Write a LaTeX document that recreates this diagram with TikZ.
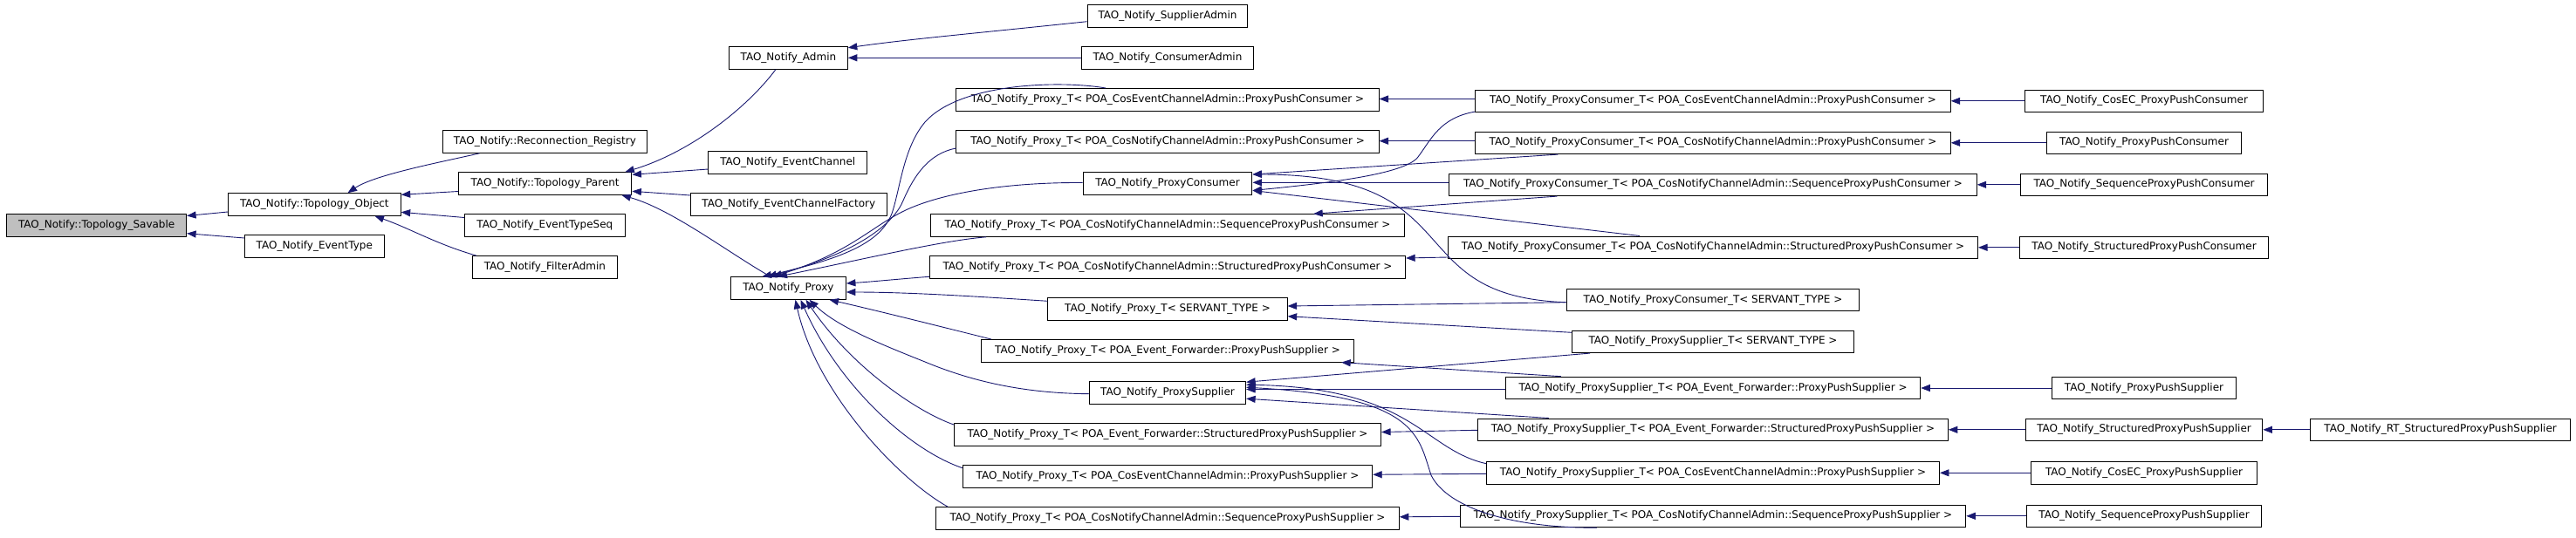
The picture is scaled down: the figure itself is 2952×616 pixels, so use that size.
\documentclass[tikz,border=0pt]{standalone}
\usepackage{fontspec}
\setmainfont{DejaVu Sans}
\usetikzlibrary{arrows.meta}
\definecolor{edgecol}{RGB}{25,25,112}
\definecolor{rootgray}{RGB}{191,191,191}
\begin{document}
\begin{tikzpicture}[x=1pt,y=-1pt,
  box/.style={draw=black, fill=white, line width=1pt, minimum height=25.6pt, inner xsep=1pt, inner ysep=0pt, font=\fontsize{12pt}{14pt}\selectfont, text=black},
  root/.style={box, fill=rootgray},
  edge/.style={draw=edgecol, line width=0.9pt, -{Triangle[length=10.5pt,width=8pt]}}]
\useasboundingbox (0,0) rectangle (2952,616);
% column 1-4
\node[root, minimum width=205.9pt] (sav) at (110.65,258.5) {TAO\_Notify::Topology\_Savable};
\node[box, minimum width=197.7pt] (obj) at (360.35,234.5) {TAO\_Notify::Topology\_Object};
\node[box, minimum width=159.4pt] (evt) at (360.3,282.5) {TAO\_Notify\_EventType};
\node[box, minimum width=233.4pt] (rec) at (624.4,162.5) {TAO\_Notify::Reconnection\_Registry};
\node[box, minimum width=198.4pt] (par) at (624.7,210.5) {TAO\_Notify::Topology\_Parent};
\node[box, minimum width=183.7pt] (ets) at (624.35,258.5) {TAO\_Notify\_EventTypeSeq};
\node[box, minimum width=165.8pt] (fil) at (624.4,306.5) {TAO\_Notify\_FilterAdmin};
\node[box, minimum width=135.8pt] (adm) at (903.4,66.3) {TAO\_Notify\_Admin};
\node[box, minimum width=181.7pt] (ech) at (902.75,186.5) {TAO\_Notify\_EventChannel};
\node[box, minimum width=224.5pt] (ecf) at (903.75,234.5) {TAO\_Notify\_EventChannelFactory};
\node[box, minimum width=132pt] (prx) at (903.4,330.5) {TAO\_Notify\_Proxy};
% column 5
\node[box, minimum width=183.7pt] (sad) at (1338,18.3) {TAO\_Notify\_SupplierAdmin};
\node[box, minimum width=197pt] (cad) at (1338,66.3) {TAO\_Notify\_ConsumerAdmin};
\node[box, minimum width=484.1pt] (ptA) at (1338,114.3) {TAO\_Notify\_Proxy\_T< POA\_CosEventChannelAdmin::ProxyPushConsumer >};
\node[box, minimum width=484.1pt] (ptB) at (1338,162.5) {TAO\_Notify\_Proxy\_T< POA\_CosNotifyChannelAdmin::ProxyPushConsumer >};
\node[box, minimum width=193.9pt] (pcon) at (1338,210.5) {TAO\_Notify\_ProxyConsumer};
\node[box, minimum width=543.4pt] (ptC) at (1338,258.5) {TAO\_Notify\_Proxy\_T< POA\_CosNotifyChannelAdmin::SequenceProxyPushConsumer >};
\node[box, minimum width=545.3pt] (ptD) at (1338,306.3) {TAO\_Notify\_Proxy\_T< POA\_CosNotifyChannelAdmin::StructuredProxyPushConsumer >};
\node[box, minimum width=274.2pt] (ptE) at (1338,354.3) {TAO\_Notify\_Proxy\_T< SERVANT\_TYPE >};
\node[box, minimum width=427.3pt] (ptF) at (1338,402.3) {TAO\_Notify\_Proxy\_T< POA\_Event\_Forwarder::ProxyPushSupplier >};
\node[box, minimum width=179.2pt] (psup) at (1338,450.2) {TAO\_Notify\_ProxySupplier};
\node[box, minimum width=489.1pt] (ptG) at (1338,498.3) {TAO\_Notify\_Proxy\_T< POA\_Event\_Forwarder::StructuredProxyPushSupplier >};
\node[box, minimum width=469.4pt] (ptH) at (1338,546.3) {TAO\_Notify\_Proxy\_T< POA\_CosEventChannelAdmin::ProxyPushSupplier >};
\node[box, minimum width=530.6pt] (ptI) at (1338,594.5) {TAO\_Notify\_Proxy\_T< POA\_CosNotifyChannelAdmin::SequenceProxyPushSupplier >};
% column 6
\node[box, minimum width=544.4pt] (pcA) at (1963,115.8) {TAO\_Notify\_ProxyConsumer\_T< POA\_CosEventChannelAdmin::ProxyPushConsumer >};
\node[box, minimum width=544.4pt] (pcB) at (1963,163.8) {TAO\_Notify\_ProxyConsumer\_T< POA\_CosNotifyChannelAdmin::ProxyPushConsumer >};
\node[box, minimum width=604.4pt] (pcC) at (1963,211.8) {TAO\_Notify\_ProxyConsumer\_T< POA\_CosNotifyChannelAdmin::SequenceProxyPushConsumer >};
\node[box, minimum width=607pt] (pcD) at (1963,283.8) {TAO\_Notify\_ProxyConsumer\_T< POA\_CosNotifyChannelAdmin::StructuredProxyPushConsumer >};
\node[box, minimum width=335.8pt] (pcE) at (1963,344) {TAO\_Notify\_ProxyConsumer\_T< SERVANT\_TYPE >};
\node[box, minimum width=323pt] (psE) at (1963,391.8) {TAO\_Notify\_ProxySupplier\_T< SERVANT\_TYPE >};
\node[box, minimum width=475.5pt] (psF) at (1963,445) {TAO\_Notify\_ProxySupplier\_T< POA\_Event\_Forwarder::ProxyPushSupplier >};
\node[box, minimum width=538.7pt] (psG) at (1963,492.8) {TAO\_Notify\_ProxySupplier\_T< POA\_Event\_Forwarder::StructuredProxyPushSupplier >};
\node[box, minimum width=518.9pt] (psH) at (1963,542.3) {TAO\_Notify\_ProxySupplier\_T< POA\_CosEventChannelAdmin::ProxyPushSupplier >};
\node[box, minimum width=579.5pt] (psI) at (1963,591.8) {TAO\_Notify\_ProxySupplier\_T< POA\_CosNotifyChannelAdmin::SequenceProxyPushSupplier >};
% column 7-8
\node[box, minimum width=273.6pt] (cecppc) at (2457,115.8) {TAO\_Notify\_CosEC\_ProxyPushConsumer};
\node[box, minimum width=223.2pt] (ppc) at (2457,163.8) {TAO\_Notify\_ProxyPushConsumer};
\node[box, minimum width=283.8pt] (sppc) at (2457,211.8) {TAO\_Notify\_SequenceProxyPushConsumer};
\node[box, minimum width=285pt] (stppc) at (2457,283.8) {TAO\_Notify\_StructuredProxyPushConsumer};
\node[box, minimum width=210.4pt] (pps) at (2457,445) {TAO\_Notify\_ProxyPushSupplier};
\node[box, minimum width=271.7pt] (stpps) at (2457,492.8) {TAO\_Notify\_StructuredProxyPushSupplier};
\node[box, minimum width=259.5pt] (cecpps) at (2457,542.3) {TAO\_Notify\_CosEC\_ProxyPushSupplier};
\node[box, minimum width=269.8pt] (spps) at (2457,591.8) {TAO\_Notify\_SequenceProxyPushSupplier};
\node[box, minimum width=297.8pt] (rt) at (2796.6,492.8) {TAO\_Notify\_RT\_StructuredProxyPushSupplier};
% edges, left part
\draw[edge] ([shift={(0,8.5)}]obj.west) -- ([shift={(0,-11)}]sav.east);
\draw[edge] ([shift={(0,-9.5)}]evt.west) -- ([shift={(0,9.2)}]sav.east);
\draw[edge] ([shift={(42.3,0)}]rec.south west) .. controls (510,185) and (430,200) .. ([shift={(137.5,0)}]obj.north west);
\draw[edge] ([shift={(0,9)}]par.west) -- ([shift={(0,-11.2)}]obj.east);
\draw[edge] ([shift={(0,-9)}]ets.west) -- ([shift={(0,8.8)}]obj.east);
\draw[edge] ([shift={(5,0)}]fil.north west) .. controls (500,280) and (470,262) .. ([shift={(168.5,0)}]obj.south west);
\draw[edge] ([shift={(54,0)}]adm.south west) .. controls (855,125) and (790,175) .. ([shift={(-8,0)}]par.north east);
\draw[edge] ([shift={(0,7.5)}]ech.west) -- ([shift={(0,-10.2)}]par.east);
\draw[edge] ([shift={(0,-10.5)}]ecf.west) -- ([shift={(0,8.8)}]par.east);
\draw[edge] ([shift={(46,0)}]prx.north west) .. controls (835,290) and (770,240) .. ([shift={(-12,0)}]par.south east);
\draw[edge] ([shift={(0,6.4)}]sad.west) .. controls (1120,38) and (1040,45) .. ([shift={(0,-11.5)}]adm.east);
\draw[edge] (cad.west) -- (adm.east);
% edges into Proxy
\draw[edge] ([shift={(171.6,0)}]ptA.north west) .. controls (1215,92) and (1100,95) .. (1060,140) .. controls (1035,170) and (1032,215) .. (1022,245) .. controls (1010,275) and (975,295) .. ([shift={(36.6,0)}]prx.north west);
\draw[edge] ([shift={(0,7.5)}]ptB.west) .. controls (1065,176) and (1048,200) .. (1035,230) .. controls (1025,255) and (985,290) .. ([shift={(42.6,0)}]prx.north west);
\draw[edge] ([shift={(0,-1)}]pcon.west) .. controls (1150,209) and (1080,222) .. (1040,240) .. controls (1000,258) and (975,290) .. ([shift={(48.6,0)}]prx.north west);
\draw[edge] ([shift={(64.3,0)}]ptC.south west) .. controls (1080,276) and (1000,295) .. ([shift={(54.6,0)}]prx.north west);
\draw[edge] ([shift={(0,11)}]ptD.west) .. controls (1030,320) and (1000,323) .. ([shift={(0,-5.5)}]prx.east);
\draw[edge] ([shift={(0,-9)}]ptE.west) .. controls (1120,340) and (1040,335) .. ([shift={(0,4.5)}]prx.east);
\draw[edge] ([shift={(12,0)}]ptF.north west) .. controls (1080,375) and (1000,355) .. ([shift={(-19.4,0)}]prx.south east);
\draw[edge] ([shift={(0,1.5)}]psup.west) .. controls (1180,451) and (1120,440) .. (1060,415) .. controls (1010,395) and (960,375) .. ([shift={(-42.4,0)}]prx.south east);
\draw[edge] ([shift={(0,2)}]ptG.north west) .. controls (1050,472) and (975,420) .. ([shift={(-46.4,0)}]prx.south east);
\draw[edge] ([shift={(0,-9.6)}]ptH.west) .. controls (1040,515) and (960,440) .. ([shift={(-52.4,0)}]prx.south east);
\draw[edge] ([shift={(14,0)}]ptI.north west) .. controls (1030,550) and (935,450) .. ([shift={(-58.4,0)}]prx.south east);
% consumer templates
\draw[edge] ([shift={(0,-2.3)}]pcA.west) -- ([shift={(0,-0.8)}]ptA.east);
\draw[edge] ([shift={(0,-1)}]pcA.south west) .. controls (1650,135) and (1640,160) .. (1625,180) .. controls (1610,200) and (1520,210) .. ([shift={(0,8)}]pcon.east);
\draw[edge] ([shift={(0,-2.1)}]pcB.west) -- ([shift={(0,-0.8)}]ptB.east);
\draw[edge] ([shift={(95,0)}]pcB.south west) -- ([shift={(0,-10.5)}]pcon.east);
\draw[edge] ([shift={(124,0)}]pcC.south west) -- ([shift={(-105,0)}]ptC.north east);
\draw[edge] ([shift={(0,-2.5)}]pcC.west) -- ([shift={(0,-1.2)}]pcon.east);
\draw[edge] ([shift={(0,11.2)}]pcD.west) -- ([shift={(0,-10.3)}]ptD.east);
\draw[edge] ([shift={(220,0)}]pcD.north west) -- ([shift={(0,8)}]pcon.east);
\draw[edge] ([shift={(0,2.7)}]pcE.west) -- ([shift={(0,-3.3)}]ptE.east);
\draw[edge] ([shift={(0,2.7)}]pcE.west) .. controls (1600,340) and (1690,200) .. ([shift={(0,-10.5)}]pcon.east);
% supplier templates
\draw[edge] ([shift={(0,-10.5)}]psE.west) -- ([shift={(0,8.4)}]ptE.east);
\draw[edge] ([shift={(21,0)}]psE.south west) -- ([shift={(0,-12)}]psup.east);
\draw[edge] ([shift={(64,0)}]psF.north west) -- ([shift={(-15,0)}]ptF.south east);
\draw[edge] ([shift={(0,1.5)}]psF.west) -- ([shift={(0,-3.7)}]psup.east);
\draw[edge] ([shift={(0,0.5)}]psG.west) -- ([shift={(0,-2.8)}]ptG.east);
\draw[edge] ([shift={(81.7,0)}]psG.north west) -- ([shift={(0,7)}]psup.east);
\draw[edge] ([shift={(0,1)}]psH.west) -- ([shift={(0,-2)}]ptH.east);
\draw[edge] ([shift={(0,-10.6)}]psH.west) .. controls (1630,515) and (1620,445) .. ([shift={(0,-9)}]psup.east);
\draw[edge] ([shift={(0,0.5)}]psI.west) -- ([shift={(0,-1.7)}]ptI.east);
\draw[edge] ([shift={(157,0)}]psI.south west) .. controls (1740,606) and (1660,585) .. (1640,545) .. controls (1625,500) and (1625,455) .. ([shift={(0,-6)}]psup.east);
% leaf classes
\draw[edge] (cecppc.west) -- (pcA.east);
\draw[edge] (ppc.west) -- (pcB.east);
\draw[edge] (sppc.west) -- (pcC.east);
\draw[edge] (stppc.west) -- (pcD.east);
\draw[edge] (pps.west) -- (psF.east);
\draw[edge] (stpps.west) -- (psG.east);
\draw[edge] (rt.west) -- (stpps.east);
\draw[edge] (cecpps.west) -- (psH.east);
\draw[edge] (spps.west) -- (psI.east);
\end{tikzpicture}
\end{document}
